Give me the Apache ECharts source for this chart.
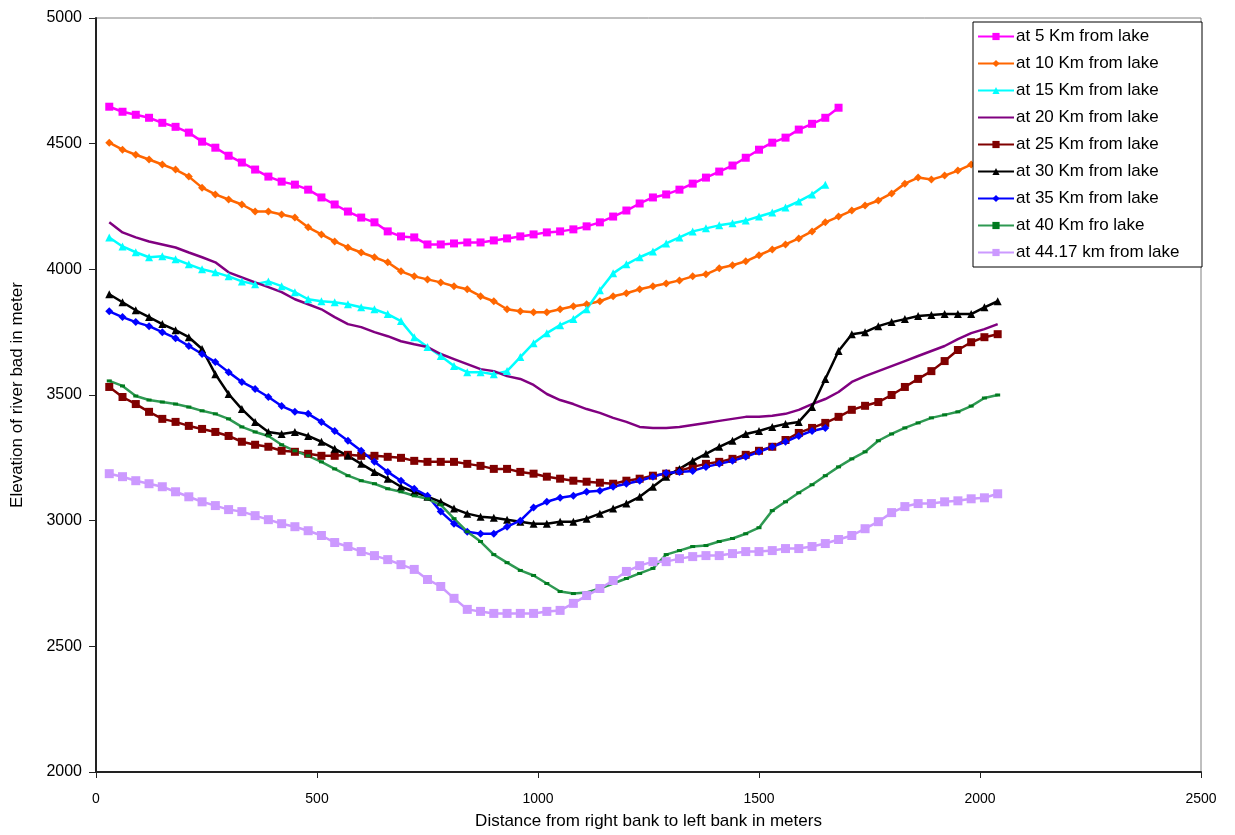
<!DOCTYPE html>
<html>
<head>
<meta charset="utf-8">
<script src="https://cdn.jsdelivr.net/npm/echarts@6/dist/echarts.min.js"></script>
<style>
  html, body { margin: 0; padding: 0; background: #fff; }
  #chart { width: 1235px; height: 835px; }
</style>
</head>
<body>
<div id="chart"></div>
<script>
// distance from right bank (m), shared by all profiles
var xs = [30, 60, 90, 120, 150, 180, 210, 240, 270, 300, 330, 360, 390, 420, 450, 480, 510, 540, 570, 600,
    630, 660, 690, 720, 750, 780, 810, 840, 870, 900, 930, 960, 990, 1020, 1050, 1080, 1110, 1140, 1170, 1200,
    1230, 1260, 1290, 1320, 1350, 1380, 1410, 1440, 1470, 1500, 1530, 1560, 1590, 1620, 1650, 1680, 1710, 1740,
    1770, 1800, 1830, 1860, 1890, 1920, 1950, 1980, 2010, 2040];

var km5 = [4647, 4627, 4615, 4603, 4583, 4567, 4544, 4508, 4484, 4452, 4425, 4397, 4369, 4349, 4337, 4317, 4286,
    4258, 4230, 4206, 4187, 4151, 4131, 4127, 4099, 4099, 4103, 4107, 4107,
    4115, 4123, 4131, 4139, 4147, 4151, 4159, 4171, 4187, 4210, 4234, 4262, 4286, 4298, 4317, 4341, 4365, 4389,
    4413, 4444, 4476, 4504, 4524, 4556, 4579, 4603, 4643];
var km10 = [4504, 4476, 4456, 4437, 4417, 4397, 4369, 4325, 4298, 4278, 4258, 4230, 4230, 4218, 4206, 4167, 4139,
    4111, 4087, 4067, 4048, 4028, 3992, 3972, 3960, 3948, 3933, 3921, 3893,
    3873, 3841, 3833, 3829, 3829, 3841, 3853, 3861, 3873, 3893, 3905, 3921, 3933, 3944, 3956, 3972, 3980, 4004,
    4016, 4032, 4056, 4079, 4099, 4123, 4151, 4187, 4210, 4234, 4254, 4274, 4302, 4341, 4365, 4357, 4373, 4393,
    4417, 4433, 4448];
var km15 = [4127, 4091, 4068, 4048, 4052, 4040, 4020, 4000, 3988, 3972, 3952, 3941, 3952, 3933, 3909, 3881, 3873,
    3869, 3861, 3849, 3841, 3822, 3794, 3730, 3691, 3655, 3615, 3591, 3591,
    3583, 3595, 3651, 3706, 3746, 3778, 3802, 3841, 3917, 3984, 4020, 4048, 4071, 4103, 4127, 4151, 4163, 4175,
    4183, 4194, 4210, 4226, 4246, 4270, 4298, 4337];
var km20 = [4187, 4147, 4127, 4111, 4099, 4087, 4067, 4048, 4028, 3988, 3968, 3948, 3929, 3909, 3881, 3861, 3841,
    3810, 3782, 3770, 3750, 3734, 3714, 3702, 3691, 3663, 3643, 3623, 3603,
    3595, 3575, 3564, 3540, 3504, 3480, 3464, 3444, 3429, 3409, 3393, 3373, 3369, 3369, 3373, 3381, 3389, 3397,
    3405, 3413, 3413, 3417, 3425, 3441, 3464, 3484, 3512, 3552, 3575, 3595, 3615, 3635, 3655, 3675, 3695, 3722,
    3746, 3762, 3782];
var km25 = [3532, 3492, 3464, 3433, 3405, 3393, 3377, 3365, 3353, 3337, 3314, 3302, 3294, 3278, 3274, 3266, 3258,
    3258, 3262, 3258, 3258, 3254, 3250, 3238, 3234, 3234, 3234, 3226, 3218,
    3206, 3206, 3194, 3187, 3175, 3167, 3159, 3155, 3151, 3147, 3159, 3167, 3179, 3187, 3198, 3214, 3226, 3234,
    3246, 3262, 3278, 3294, 3321, 3349, 3369, 3389, 3413, 3441, 3457, 3472, 3500, 3532, 3564, 3595, 3635, 3679,
    3710, 3730, 3742];
var km30 = [3901, 3869, 3837, 3810, 3782, 3758, 3730, 3683, 3583, 3504, 3444, 3393, 3353, 3345, 3353, 3337, 3314,
    3286, 3258, 3226, 3194, 3167, 3135, 3115, 3095, 3075, 3048, 3028, 3016,
    3012, 3004, 2996, 2988, 2988, 2996, 2996, 3008, 3028, 3048, 3068, 3095, 3135, 3175, 3206, 3238, 3266, 3294,
    3318, 3345, 3357, 3373, 3385, 3393, 3452, 3564, 3675, 3742, 3750, 3774, 3790, 3802, 3814, 3818, 3822, 3822,
    3822, 3849, 3873];
var km35 = [3833, 3810, 3790, 3774, 3750, 3726, 3695, 3663, 3631, 3591, 3552, 3524, 3492, 3456, 3433, 3425, 3393,
    3357, 3318, 3278, 3234, 3194, 3159, 3127, 3099, 3036, 2988, 2956, 2948,
    2948, 2976, 3000, 3052, 3075, 3091, 3099, 3115, 3119, 3135, 3147, 3159, 3175, 3190, 3194, 3198, 3214, 3226,
    3238, 3254, 3274, 3294, 3314, 3337, 3357, 3369];
var km40 = [3556, 3536, 3496, 3480, 3472, 3464, 3452, 3437, 3425, 3405, 3373, 3353, 3337, 3302, 3278, 3258, 3234,
    3206, 3179, 3159, 3147, 3127, 3115, 3099, 3087, 3063, 3008, 2956, 2917,
    2865, 2833, 2802, 2782, 2750, 2718, 2710, 2714, 2730, 2750, 2770, 2790, 2810, 2865, 2881, 2897, 2901, 2917,
    2929, 2948, 2972, 3040, 3075, 3111, 3143, 3179, 3214, 3246, 3274, 3318, 3345, 3369, 3389, 3409, 3421, 3433,
    3456, 3488, 3500];
var km44 = [3187, 3175, 3159, 3147, 3135, 3115, 3095, 3075, 3060, 3044, 3036, 3020, 3004, 2988, 2976, 2960, 2941,
    2913, 2897, 2877, 2861, 2845, 2825, 2806, 2766, 2738, 2691, 2647, 2639,
    2631, 2631, 2631, 2631, 2639, 2643, 2671, 2702, 2730, 2762, 2798, 2821, 2837, 2837, 2849, 2857, 2861, 2861,
    2869, 2877, 2877, 2881, 2889, 2889, 2897, 2909, 2925, 2941, 2968, 2996, 3032, 3056, 3068, 3068, 3075, 3079,
    3087, 3091, 3107];

var names = ["at 5 Km from lake", "at 10 Km from lake", "at 15 Km from lake", "at 20 Km from lake",
    "at 25 Km from lake", "at 30 Km from lake", "at 35 Km from lake", "at 40 Km fro lake",
    "at 44.17 km from lake"];

var FONT = "Liberation Sans, Arial, sans-serif";

function pairs(ys) {
    return ys.map(function (v, i) { return [xs[i], v]; });
}

function line(name, ys, color, symbol, size, markColor) {
    return {
        name: name,
        type: "line",
        data: pairs(ys),
        symbol: symbol,
        symbolSize: size,
        showSymbol: size !== 0,
        itemStyle: { color: markColor || color },
        lineStyle: { color: color, width: 2.5 },
        emphasis: { disabled: true },
        animation: false,
    };
}

var series = [
    line(names[0], km5, "#ff00ff", "rect", 8),
    line(names[1], km10, "#ff6600", "diamond", 8),
    line(names[2], km15, "#00ffff", "triangle", 8),
    line(names[3], km20, "#800080", "rect", 0),
    line(names[4], km25, "#800000", "rect", 8),
    line(names[5], km30, "#000000", "triangle", 8),
    line(names[6], km35, "#0000ff", "diamond", 8),
    line(names[7], km40, "#2e9952", "rect", [5, 3], "#007a1f"),
    line(names[8], km44, "#cc99ff", "rect", 9),
];

var legendData = names.map(function (n, i) {
    return i === 3 ? { name: n, itemStyle: { opacity: 0 } } : { name: n };
});

var myChart = echarts.init(document.getElementById("chart"));
myChart.setOption({
    animation: false,
    backgroundColor: "#fff",
    grid: {
        left: 96,
        right: 34,
        top: 18,
        bottom: 61,
        show: true,
        borderColor: "#808080",
        borderWidth: 1,
    },
    legend: {
        orient: "vertical",
        left: 973,
        top: 22,
        padding: [6, 4, 6, 4],
        itemGap: 10,
        itemWidth: 36,
        itemHeight: 9,
        backgroundColor: "#fff",
        borderColor: "#000",
        borderWidth: 1,
        borderRadius: 0,
        textStyle: { fontFamily: FONT, fontSize: 17, color: "#000", lineHeight: 16, width: 182, padding: [0, 0, 0, -3] },
        data: legendData,
    },
    xAxis: {
        type: "value",
        min: 0,
        max: 2500,
        interval: 500,
        name: "Distance from right bank to left bank in meters",
        nameLocation: "middle",
        nameGap: 41,
        nameTextStyle: { fontFamily: FONT, fontSize: 17, color: "#000" },
        axisLine: { show: true, lineStyle: { color: "#222", width: 2 } },
        axisTick: { show: true, length: 6, lineStyle: { color: "#222" } },
        axisLabel: { fontFamily: FONT, fontSize: 14, color: "#000", margin: 20, formatter: function (v) { return String(v); } },
        splitLine: { show: false },
    },
    yAxis: {
        type: "value",
        min: 2000,
        max: 5000,
        interval: 500,
        name: "Elevation of river bad in meter",
        nameLocation: "middle",
        nameGap: 70,
        nameRotate: 90,
        nameTextStyle: { fontFamily: FONT, fontSize: 17, color: "#000" },
        axisLine: { show: true, lineStyle: { color: "#222", width: 2 } },
        axisTick: { show: true, length: 7, lineStyle: { color: "#222" } },
        axisLabel: { fontFamily: FONT, fontSize: 16, color: "#000", margin: 14, formatter: function (v) { return String(v); } },
        splitLine: { show: false },
    },
    series: series,
});
</script>
</body>
</html>
